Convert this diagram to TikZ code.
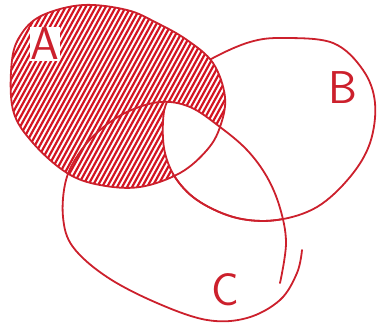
\documentclass[tikz,border=0pt]{standalone}
\usepackage{tikz}
\definecolor{penred}{RGB}{204,32,44}
\definecolor{hatchred}{RGB}{212,20,34}
\tikzset{
  outline/.style={draw=penred,line width=1.8pt,line cap=round,line join=round},
  hatch/.style={hatchred,line width=2.2pt,line cap=round},
  lbl/.style={text=penred,font=\sffamily\fontsize{46}{46}\selectfont,inner sep=1pt},
  shpA/.style={insert path={plot[smooth cycle,tension=0.6] coordinates {(12,60) (22,33) (43,15) (83,5) (127,10) (157,23) (187,40) (213,63) (225,97) (220,127) (207,150) (180,173) (140,187) (100,185) (67,173) (33,143) (13,110)}}},
  shpB/.style={insert path={plot[smooth cycle,tension=0.6] coordinates {(213,58) (250,42) (283,38) (333,43) (363,70) (375,103) (370,143) (350,177) (317,207) (277,220) (237,218) (200,202) (177,180) (165,153) (163,122) (168,100) (188,75)}}},
  shpC/.style={insert path={plot[smooth cycle,tension=0.6] coordinates {(286,243) (280,208) (267,177) (247,150) (220,127) (190,107) (160,102) (127,112) (100,130) (80,152) (66,180) (63,217) (73,247) (107,277) (157,303) (207,320) (247,318) (280,300) (297,273) (302,250)}}}
}

\begin{document}
\begin{tikzpicture}[x=1pt,y=-1pt]
  \useasboundingbox (0,0) rectangle (377,324);

  \draw[outline,shpB];
  % shading of A
  \begin{scope}
    \clip[shpA];
    \fill[white,shpA];
    \foreach \i in {-130,-125,...,235}
      \draw[hatch] (\i,200) -- ({\i+115},-10);
  \end{scope}
  % B and C together stay blank inside A
  \begin{scope}
    \clip[shpB];
    \clip[shpC];
    \fill[white,shpA];
  \end{scope}
  \begin{scope}
    \clip[shpC];
    \draw[outline,shpB];
  \end{scope}

  \draw[outline,shpA];
  \draw[outline] plot[smooth,tension=0.6] coordinates {(280,283) (286,243) (280,208) (267,177) (247,150) (220,127) (190,107) (160,102) (127,112) (100,130) (80,152) (66,180) (63,217) (73,247) (107,277) (157,303) (207,320) (247,318) (280,300) (297,273) (302,250)};

  \node[lbl,fill=white] (labA) at (45,44) {A};
  \node[lbl] (labB) at (343,88) {B};
  \node[lbl] (labC) at (225,290) {C};
\end{tikzpicture}
\end{document}
